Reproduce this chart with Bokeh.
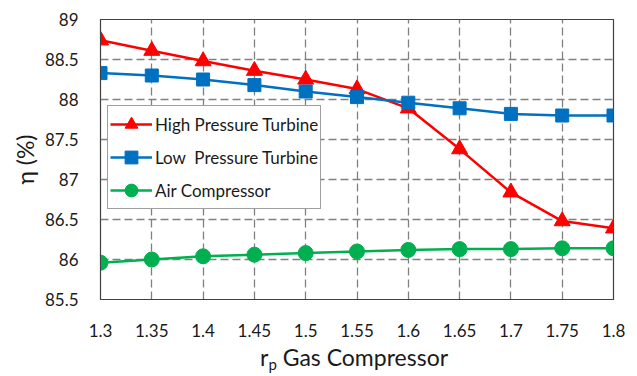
from bokeh.plotting import figure
from bokeh.models import Range1d, FixedTicker, Legend, LegendItem, Div
from bokeh.layouts import column
from bokeh.embed import file_html
from bokeh.resources import INLINE

rp = [1.3, 1.35, 1.4, 1.45, 1.5, 1.55, 1.6, 1.65, 1.7, 1.75, 1.8]
hp_turbine = [88.74, 88.61, 88.48, 88.36, 88.25, 88.13, 87.89, 87.38, 86.84, 86.48, 86.39]
lp_turbine = [88.33, 88.30, 88.25, 88.18, 88.10, 88.03, 87.96, 87.89, 87.82, 87.80, 87.80]
air_comp = [85.96, 86.00, 86.04, 86.06, 86.08, 86.10, 86.12, 86.13, 86.13, 86.14, 86.14]
y_ticks = [85.5, 86, 86.5, 87, 87.5, 88, 88.5, 89]

FONT = "Lato"

p = figure(width=637, height=345, output_backend="svg", toolbar_location=None,
           x_range=Range1d(1.3, 1.8), y_range=Range1d(85.5, 89),
           min_border_left=100, min_border_right=24, min_border_top=19, min_border_bottom=46)
p.outline_line_color = "#404040"
p.outline_line_width = 1.2

p.xaxis.ticker = FixedTicker(ticks=rp)
p.yaxis.ticker = FixedTicker(ticks=y_ticks)
p.xaxis.major_label_overrides = {v: ("%g" % v) for v in rp}
p.yaxis.major_label_overrides = {v: ("%g" % v) for v in y_ticks}
for ax in (p.xaxis[0], p.yaxis[0]):
    ax.major_tick_line_color = None
    ax.minor_tick_line_color = None
    ax.axis_line_color = "#404040"
    ax.major_label_text_font = FONT
    ax.major_label_text_font_size = "17px"
    ax.major_label_text_color = "#1a1a1a"
    ax.axis_label_text_font = FONT
    ax.axis_label_text_font_style = "normal"
    ax.axis_label_text_color = "#1a1a1a"
p.yaxis.major_label_standoff = 16
p.xaxis.major_label_standoff = 18
p.yaxis.axis_label = "η (%)"
p.yaxis.axis_label_text_font_size = "23px"
p.yaxis.axis_label_standoff = 3

for g in (p.xgrid[0], p.ygrid[0]):
    g.grid_line_color = "#808080"
    g.grid_line_dash = "8 4"
    g.grid_line_width = 1.3

r_hp_l = p.line(rp, hp_turbine, line_color="#FF0000", line_width=2.5)
r_hp_m = p.scatter(rp, hp_turbine, marker="triangle", size=16, fill_color="#FF0000", line_color="#FF0000")
r_lp_l = p.line(rp, lp_turbine, line_color="#0070C0", line_width=2.5)
r_lp_m = p.scatter(rp, lp_turbine, marker="square", size=13, fill_color="#0070C0", line_color="#0070C0")
r_ac_l = p.line(rp, air_comp, line_color="#00B050", line_width=2.5)
r_ac_m = p.scatter(rp, air_comp, marker="circle", size=15, fill_color="#00B050", line_color="#00B050")

legend = Legend(items=[
    LegendItem(label="High Pressure Turbine", renderers=[r_hp_l, r_hp_m]),
    LegendItem(label="Low  Pressure Turbine", renderers=[r_lp_l, r_lp_m]),
    LegendItem(label="Air Compressor", renderers=[r_ac_l, r_ac_m]),
], location=(7, 90))
legend.label_text_font = FONT
legend.label_text_font_size = "17px"
legend.label_text_color = "#1a1a1a"
legend.glyph_width = 42
legend.glyph_height = 32
legend.label_height = 20
legend.spacing = 1
legend.padding = 2
legend.margin = 0
legend.label_standoff = 3
legend.border_line_color = "#404040"
legend.border_line_width = 1.2
legend.background_fill_alpha = 1
p.add_layout(legend, "center")

xlabel = Div(text="r<span style='font-size:15px; vertical-align:-4px; line-height:0'>p</span> Gas Compressor",
             width=637, height=31, margin=0,
             styles={"font-family": "Lato", "font-size": "23px", "color": "#1a1a1a",
                     "padding-left": "260px", "padding-top": "0px", "line-height": "24px",
                     "overflow": "visible"})

page = column(p, xlabel, spacing=0)

open("out.html", "w").write(file_html(page, INLINE))
